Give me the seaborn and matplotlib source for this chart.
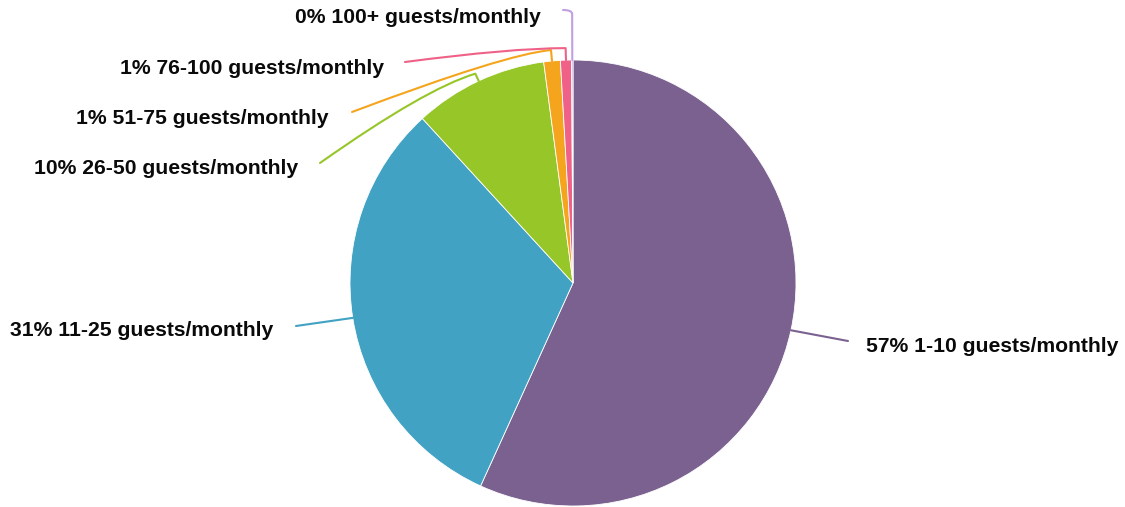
import matplotlib
matplotlib.use("Agg")
import matplotlib.pyplot as plt
import seaborn as sns
import numpy as np
from matplotlib.path import Path
from matplotlib.patches import PathPatch

# ---- data ----
categories = ["1-10 guests/monthly", "11-25 guests/monthly", "26-50 guests/monthly",
              "51-75 guests/monthly", "76-100 guests/monthly", "100+ guests/monthly"]
shares = [56.8, 31.4, 9.7, 1.2, 0.8, 0.1]
colors = ["#7B6190", "#41A2C3", "#96C627", "#F5A51D", "#EF6187", "#C29FE0"]

sns.set_theme(style="white")
plt.rcParams['font.family'] = ['Liberation Sans', 'DejaVu Sans']

W, H = 1125, 507
CX, CY, R = 573, 283, 223

fig = plt.figure(figsize=(W / 100, H / 100), dpi=100)
ax = fig.add_axes([0, 0, 1, 1])
wedges, _ = ax.pie(shares, colors=colors, startangle=90, counterclock=False,
                   radius=1, center=(0, 0),
                   wedgeprops=dict(edgecolor="white", linewidth=0.6))
ax.set_aspect("auto")
ax.set_xlim(-CX / R, (W - CX) / R)
ax.set_ylim(-(H - CY) / R, CY / R)
ax.axis("off")


def p2d(px, py):
    return ((px - CX) / R, (CY - py) / R)


# layout for leader lines / labels (pixel space)
extra = [0, 0, 8, 11, 12, 46]                  # radial tick length beyond edge
ctrl_off = [None, None, (-50, 15), (-45, 4), (-55, 0), (0, -5)]
ends = [(848, 341), (296, 326), (320, 163), (352, 112), (405, 62), (563, 10)]
text_pos = [(866, 346, "left"), (273, 331, "right"), (298, 168, "right"),
            (329, 118, "right"), (384, 68, "right"), (541, 17, "right")]

for i, w in enumerate(wedges):
    mid = np.deg2rad((w.theta1 + w.theta2) / 2)
    ex, ey = np.cos(mid), np.sin(mid)
    ro = 1 + extra[i] / R
    ox, oy = ex * ro, ey * ro
    endx, endy = p2d(*ends[i])
    if ctrl_off[i] is None:
        verts = [(ex, ey), (endx, endy)]
        codes = [Path.MOVETO, Path.LINETO]
    else:
        opx, opy = CX + ox * R, CY - oy * R
        cx, cy = p2d(opx + ctrl_off[i][0], opy + ctrl_off[i][1])
        if i == 5:
            cx, cy = p2d(opx, 10)
        verts = [(ex, ey), (ox, oy), (cx, cy), (endx, endy)]
        codes = [Path.MOVETO, Path.LINETO, Path.CURVE3, Path.CURVE3]
    ax.add_patch(PathPatch(Path(verts, codes), fill=False, edgecolor=colors[i],
                           linewidth=1.5, capstyle="round", joinstyle="round"))
    tx, ty, ha = text_pos[i]
    tdx, tdy = p2d(tx, ty)
    ax.text(tdx, tdy, f"{round(shares[i]):d}% {categories[i]}", ha=ha, va="center",
            fontsize=15.2, fontweight="bold", color="#0a0a0a")

fig.savefig("out.png", dpi=100)
